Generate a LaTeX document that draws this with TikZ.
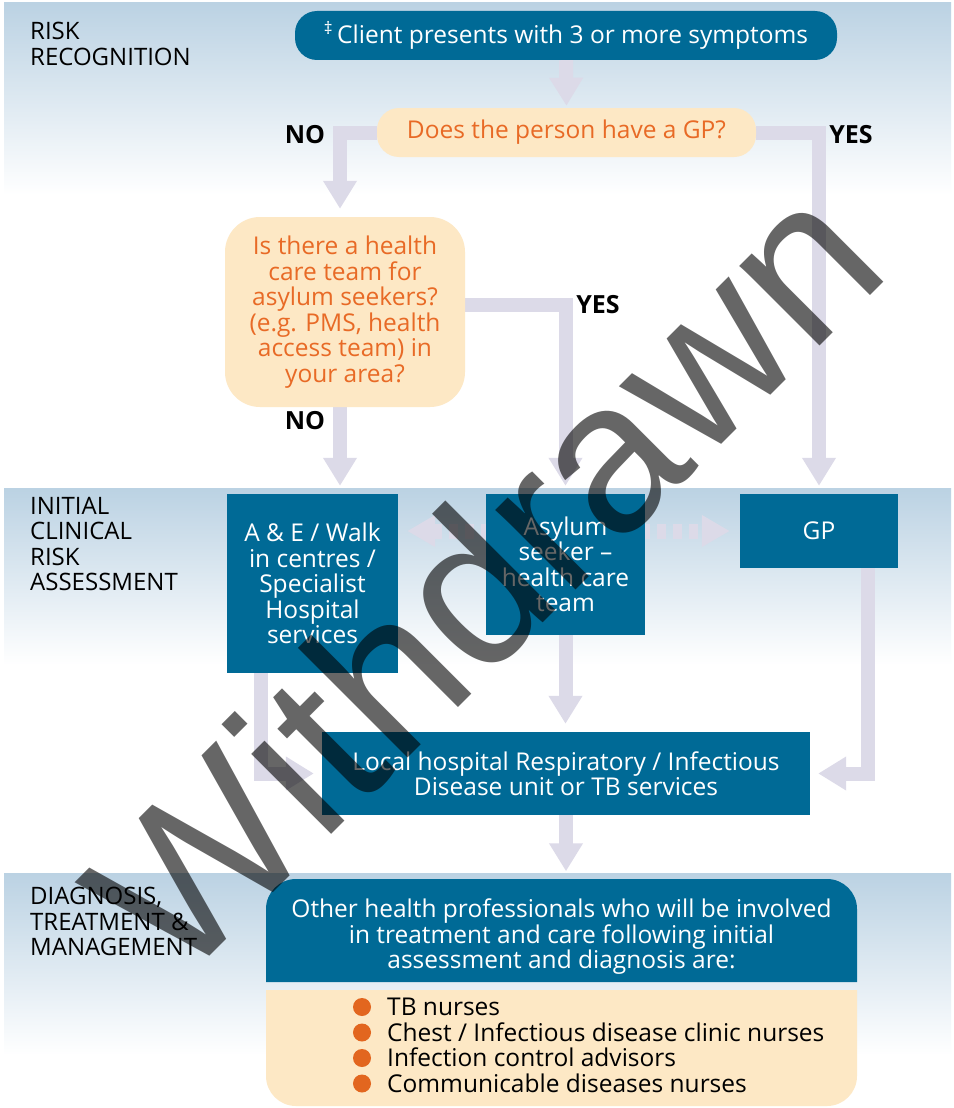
\documentclass[tikz,border=0pt]{standalone}
\usepackage{fontspec}
\setmainfont{Open Sans}
\newfontfamily\wmfont{Liberation Sans}
\usetikzlibrary{arrows.meta}

\definecolor{tealc}{RGB}{0,106,150}
\definecolor{peachc}{RGB}{253,232,197}
\definecolor{orangec}{RGB}{232,106,38}
\definecolor{dotc}{RGB}{226,102,31}
\definecolor{arrowc}{RGB}{220,218,232}
\definecolor{bandc}{RGB}{187,210,227}

\newcommand\boxsize{\fontsize{24.5}{25.5}\selectfont}
\newcommand\tagsize{\fontsize{24}{25.5}\selectfont}

\pgfdeclarelayer{bandlayer}
\pgfdeclarelayer{flowlayer}
\pgfsetlayers{bandlayer,flowlayer,main}

\begin{document}
\begin{tikzpicture}[x=1pt,y=-1pt,
    band/.style={top color=bandc, bottom color=white},
    tbox/.style={fill=tealc, text=white, inner sep=0pt, align=center, font=\boxsize},
    qbox/.style={fill=peachc, text=orangec, inner sep=0pt, align=center, font=\boxsize},
    stage/.style={anchor=north west, align=left, inner sep=0pt, font=\tagsize},
    yesno/.style={inner sep=0pt, font=\fontsize{25}{25}\selectfont\bfseries},
    flow/.style={draw=arrowc, line width=14pt, -{Triangle[width=32pt,length=28pt]}, shorten >=8pt},
    dotflow/.style={draw=arrowc, line width=15pt, dash pattern=on 9pt off 7pt,
        {Triangle[width=30pt,length=28pt]}-{Triangle[width=30pt,length=28pt]},
        shorten <=9pt, shorten >=10pt},
    wmark/.style={inner sep=0pt, text=black, text opacity=0.6, rotate=45,
        font=\wmfont\fontsize{214}{214}\selectfont},
    ]

    \useasboundingbox (0,0) rectangle (953,1108);

    %% ── bands ──────────────────────────────────────────
    \begin{pgfonlayer}{bandlayer}
        \fill[white] (0,0) rectangle (953,1108);
        \shade[band] (4,3) rectangle (951,195);
        \shade[band] (4,488) rectangle (951,665);
        \shade[band] (4,873) rectangle (951,1055);
    \end{pgfonlayer}

    \node[stage] (rr)  at (30,22)  {RISK\\RECOGNITION};
    \node[stage] (ica) at (30,497) {INITIAL\\CLINICAL\\RISK\\ASSESSMENT};
    \node[stage] (dtm) at (30,887) {DIAGNOSIS,\\TREATMENT \&\\MANAGEMENT};

    %% ── boxes ──────────────────────────────────────────
    \node[tbox, rounded corners=22pt, minimum width=542pt, minimum height=49pt] (client) at (566,35.5)
        {\textsuperscript{\ddag}\,Client presents with 3 or more symptoms};
    \node[qbox, rounded corners=22pt, minimum width=379pt, minimum height=49pt] (gpq) at (566.5,132.5)
        {Does the person have a GP?};
    \node[qbox, rounded corners=35pt, minimum width=240pt, minimum height=190pt] (hcq) at (345,312)
        {Is there a health\\care team for\\asylum seekers?\\(e.g. PMS, health\\access team) in\\your area?};
    \node[tbox, minimum width=171pt, minimum height=179pt] (ae) at (312.5,583.5)
        {A \& E / Walk\\in centres /\\Specialist\\Hospital\\services};
    \node[tbox, minimum width=159pt, minimum height=141pt] (asy) at (565.5,564.5)
        {Asylum\\seeker –\\health care\\team};
    \node[tbox, minimum width=158pt, minimum height=74pt] (gp) at (819,531) {GP};
    \node[tbox, minimum width=488pt, minimum height=83pt] (local) at (566,773.5)
        {Local hospital Respiratory / Infectious\\Disease unit or TB services};

    \fill[tealc] (266,982) [rounded corners=30pt] -- (266,879) -- (857,879) [sharp corners] -- (857,982) -- cycle;
    \node[tbox, fill=none, minimum width=591pt, minimum height=103pt] (other) at (561.5,937)
        {Other health professionals who will be involved\\in treatment and care following initial\\assessment and diagnosis are:};
    \fill[peachc] (266,990) [rounded corners=30pt] -- (266,1106) -- (857,1106) [sharp corners] -- (857,990) -- cycle;
    \node[anchor=north west, align=left, inner sep=0pt, font=\boxsize] (items) at (387,998)
        {TB nurses\\Chest / Infectious disease clinic nurses\\Infection control advisors\\Communicable diseases nurses};
    \foreach \yy in {1007,1032.5,1058,1083.5}
    \fill[dotc] (362,\yy) circle (9pt);

    %% ── yes / no ───────────────────────────────────────
    \node[yesno] (no1)  at (305,135) {NO};
    \node[yesno] (yes1) at (851,135) {YES};
    \node[yesno] (yes2) at (598,305) {YES};
    \node[yesno] (no2)  at (305,421) {NO};

    %% ── arrows ─────────────────────────────────────────
    \begin{pgfonlayer}{flowlayer}
        \draw[flow, shorten >=2pt] (client.south) -- (gpq.north);
        \draw[flow] (gpq.west) -| ([xshift=-5pt]hcq.north);
        \draw[flow] (gpq.east) -| (gp.north);
        \draw[flow] ([yshift=7pt]hcq.east) -| (asy.north);
        \draw[flow] ([xshift=-5pt]hcq.south) -- ([xshift=-5pt]hcq.south |- ae.north);
        \draw[dotflow] (ae.east |- gp.west) -- (gp.west);
        \draw[flow] ([xshift=-52pt]ae.south) |- (local.west);
        \draw[flow] (asy.south) -- (asy.south |- local.north);
        \draw[flow] ([xshift=49pt]gp.south) |- (local.east);
        \draw[flow, shorten >=14pt] (local.south) -- (local.south |- other.north);
    \end{pgfonlayer}

    %% ── watermark ──────────────────────────────────────
    \node[wmark] (wm) at (482,576) {Withdrawn};

\end{tikzpicture}
\end{document}
